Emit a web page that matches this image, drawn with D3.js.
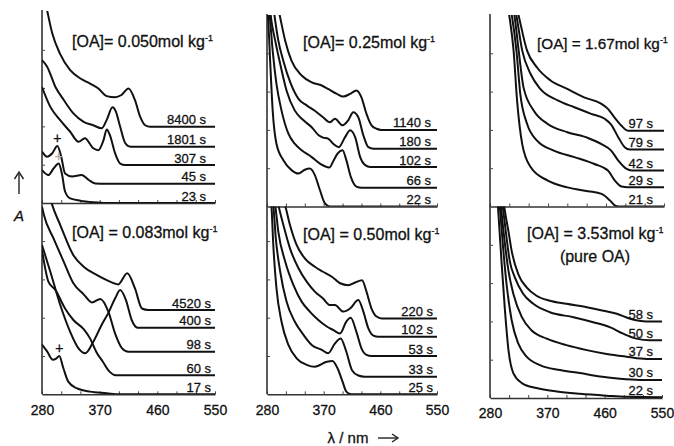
<!DOCTYPE html>
<html>
<head>
<meta charset="utf-8">
<script src="https://cdn.jsdelivr.net/npm/d3@7"></script>
<style>
  body { margin: 0; background: #fff; }
  text { font-family: "Liberation Sans", Arial, sans-serif; fill: #111; stroke: #111; stroke-width: 0.3; }
</style>
</head>
<body>
<div id="chart"></div>
<script>
// wavelength tick labels (nm) and absorbance ticks
const tickNm = [280, 370, 460, 550];
const minorNm = [280, 310, 340, 370, 400, 430, 460, 490, 520, 550];
const tickA = [1, 2, 3, 4];

const titles = ["[OA]= 0.050mol kg", "[OA]= 0.25mol kg", "[OA] = 1.67mol kg",
                "[OA] = 0.083mol kg", "[OA] = 0.50mol kg", "[OA] = 3.53mol kg"];

// spectra: [wavelength nm, A in tick units], top curve first
const times050 = ["8400 s", "1801 s", "307 s", "45 s", "23 s"];
const spectra050 = [
  [[281,5.6],[288,5.03],[296,4.43],[308,3.9],[324,3.47],[340,3.25],[355,3.12],[368,2.99],[381,2.79],[394,2.76],[404,2.82],[415,2.99],[425,2.69],[433,2.26],[441,2.03],[449,1.99],[550,1.99]],
  [[280,3.73],[288,3.56],[301,3.03],[314,2.69],[329,2.34],[345,2.12],[360,2.03],[373,1.95],[381,2.17],[390,2.5],[395,2.4],[402,1.99],[410,1.56],[418,1.47],[550,1.47]],
  [[280,3.03],[293,2.51],[308,2.17],[324,1.86],[337,1.6],[347,1.69],[360,1.43],[368,1.38],[376,1.64],[381,1.92],[386,1.77],[394,1.3],[402,1.03],[410,0.99],[550,0.99]],
  [[280,1.34],[288,1.21],[296,1.3],[304,1.49],[310,1.21],[316,0.77],[327,0.69],[342,0.73],[353,0.6],[363,0.51],[381,0.5],[550,0.5]],
  [[280,0.86],[290,0.73],[298,0.9],[306,1.03],[311,0.77],[316,0.3],[324,0.12],[340,0.06],[360,0.02],[380,0],[550,0]]
];

const times025 = ["1140 s", "180 s", "102 s", "66 s", "22 s"];
const spectra025 = [
  [[293,5.6],[302,4.85],[309,4.32],[319,3.8],[335,3.42],[351,3.24],[367,3.16],[377,3.07],[391,2.94],[401,2.87],[412,2.94],[422,3.03],[430,2.85],[438,2.42],[446,2.12],[454,2.03],[462,2.0],[550,2.0]],
  [[287,5.6],[293,4.85],[298,4.33],[306,3.8],[317,3.24],[330,2.81],[343,2.64],[356,2.5],[369,2.33],[380,2.2],[388,2.29],[400,2.12],[409,2.25],[417,2.46],[425,2.33],[433,1.86],[441,1.55],[449,1.51],[550,1.51]],
  [[282,5.6],[287,4.85],[293,4.33],[301,3.72],[311,3.03],[324,2.51],[338,2.25],[351,2.07],[362,1.86],[369,1.8],[377,1.77],[385,1.64],[394,1.55],[404,1.81],[412,1.99],[420,1.81],[428,1.29],[436,1.08],[444,1.03],[550,1.03]],
  [[280,5.5],[285,4.85],[289,4.07],[295,3.2],[303,2.51],[314,1.9],[324,1.64],[335,1.47],[351,1.29],[364,1.12],[379,1.02],[386,1.21],[392,1.38],[400,1.47],[406,1.21],[413,0.78],[422,0.52],[430,0.49],[550,0.49]],
  [[280,5.3],[282,4.85],[285,3.8],[289,2.51],[295,1.64],[306,1.21],[319,0.95],[330,0.86],[340,0.96],[348,0.99],[356,0.82],[364,0.43],[372,0.08],[380,0],[550,0]]
];

const times167 = ["97 s", "79 s", "42 s", "29 s", "21 s"];
const spectra167 = [
  [[316,5.6],[324.5,4.98],[337.5,4.07],[353,3.63],[374,3.29],[400,3.07],[426,2.85],[453,2.68],[463,2.55],[473,2.33],[484,2.11],[494,1.98],[550,1.98]],
  [[313,5.6],[321,4.98],[330,4.07],[343,3.46],[358,3.07],[385,2.77],[411,2.59],[437,2.42],[458,2.29],[468,2.14],[479,1.81],[489,1.55],[497,1.49],[550,1.49]],
  [[310,5.6],[318,4.98],[324.5,4.07],[332,3.11],[348,2.5],[369,2.16],[400,1.94],[432,1.79],[453,1.63],[468,1.46],[479,1.2],[492,0.98],[500,0.94],[550,0.94]],
  [[307,5.6],[314,4.98],[321,4.07],[327,2.94],[337.5,2.16],[353,1.72],[379,1.46],[411,1.29],[442,1.11],[463,0.94],[473.5,0.68],[484,0.52],[494,0.5],[550,0.5]],
  [[304,5.6],[310,4.98],[316.6,4.07],[322,2.77],[330,1.63],[343,1.03],[369,0.68],[400,0.5],[432,0.4],[453,0.33],[466,0.16],[473.5,0.03],[480,0],[550,0]]
];

const times083 = ["4520 s", "400 s", "98 s", "60 s", "17 s"];
const spectra083 = [
  [[290,5.3],[296,4.94],[308.5,4.42],[329,3.63],[345,3.33],[366,3.11],[381,2.98],[399,2.87],[413,3.16],[425,2.77],[436,2.24],[446,2.2],[550,2.2]],
  [[280,3.9],[293,3.2],[308.5,2.33],[324,1.63],[337,1.2],[347.5,1.07],[360,1.37],[373,1.81],[384,2.14],[394,2.5],[402,2.72],[411,2.46],[420,1.94],[429,1.74],[550,1.74]],
  [[280,4.9],[283,4.68],[298,4.07],[314,3.46],[329,2.9],[345,2.61],[358,2.4],[371,2.49],[384,2.14],[394,1.59],[405,1.2],[415,1.11],[550,1.11]],
  [[280,3.77],[290,2.94],[301,2.72],[316,2.24],[329,1.94],[345,1.7],[355,1.46],[365,1.1],[375,0.85],[385,0.6],[395,0.5],[550,0.5]],
  [[280,1.3],[288,1.12],[297,0.9],[302,0.93],[307,1.0],[313,0.7],[321,0.33],[334,0.16],[355,0.07],[381,0.03],[400,0],[550,0]]
];

const times050b = ["220 s", "102 s", "53 s", "33 s", "25 s"];
const spectra050b = [
  [[300,5.3],[308.6,4.94],[316.5,4.42],[327,3.9],[340,3.55],[356,3.33],[369,3.2],[383,3.07],[396,2.9],[409,2.85],[420,2.92],[431,2.98],[438,2.68],[446,2.24],[454,2.03],[462,1.98],[550,1.98]],
  [[293,5.3],[298,4.94],[306,4.42],[316.5,3.81],[330,3.29],[343,2.94],[356,2.68],[369,2.5],[380,2.33],[388,2.33],[401,2.16],[412,2.24],[425,2.46],[433,2.16],[441,1.72],[449,1.53],[457,1.5],[550,1.5]],
  [[288,5.3],[293,4.94],[298,4.24],[309,3.46],[322,2.85],[335,2.42],[348,2.16],[361.5,1.94],[375,1.77],[385,1.68],[396,1.59],[406,1.9],[413,2.0],[422,1.63],[430,1.2],[438,1.03],[446,1.0],[550,1.0]],
  [[286,5.3],[290,4.94],[294,4.07],[301,3.2],[311,2.42],[324,1.9],[338,1.55],[351,1.29],[367,1.16],[377,1.07],[388,1.33],[397,1.46],[406,1.11],[415,0.63],[425,0.49],[435,0.46],[550,0.46]],
  [[284,5.3],[287,4.94],[290,3.9],[295,2.77],[303,1.9],[314,1.29],[327,0.94],[343,0.77],[356,0.72],[375,0.85],[384,0.87],[392,0.68],[400,0.33],[406,0.07],[414,0],[550,0]]
];

const times353 = ["58 s", "50 s", "37 s", "30 s", "22 s"];
const spectra353 = [
  [[298,5.6],[303.5,4.87],[309,4.35],[314,3.84],[324.5,3.23],[337.5,2.89],[353,2.67],[374,2.54],[400,2.46],[432,2.37],[458,2.28],[479,2.2],[500,2.07],[526,2.0],[550,2.0]],
  [[296,5.6],[301,4.87],[306,4.18],[311,3.58],[319,3.15],[332,2.72],[348,2.46],[374,2.24],[411,2.11],[442,1.98],[468,1.85],[489,1.68],[510,1.55],[531,1.51],[550,1.51]],
  [[294,5.6],[298,4.87],[303.5,4.01],[309,3.32],[316.6,2.72],[330,2.11],[345,1.77],[369,1.55],[400,1.38],[432,1.25],[463,1.15],[494,1.08],[526,1.02],[550,1.02]],
  [[292,5.6],[296,4.87],[301,3.84],[306,2.97],[314,2.03],[324.5,1.42],[337.5,1.08],[358.5,0.86],[390,0.73],[421,0.65],[453,0.56],[484,0.5],[515,0.47],[550,0.47]],
  [[290,5.6],[293,4.87],[298,3.58],[303.5,2.28],[309,1.25],[316.6,0.65],[330,0.39],[353,0.26],[385,0.17],[421,0.11],[463,0.06],[494,0.03],[550,0.02]]
];

// "+" marks on the first peak (panel index, curve index, wavelength, colour)
const plusMarks = [[0, 3, 304, "#111"], [0, 4, 306, "#aaa"], [3, 4, 307, "#111"]];

const W = 674, H = 446, unit = 38.3;

const panels = [
  { title: titles[0], times: times050, spectra: spectra050, x0: 42, x1: 215, yb: 203, yt: 11, tx: 72, ty: 47, fs: 16, lx: 206 },
  { title: titles[1], times: times025, spectra: spectra025, x0: 267, x1: 437, yb: 206.5, yt: 15, tx: 303, ty: 48, fs: 16, lx: 431 },
  { title: titles[2], times: times167, spectra: spectra167, x0: 490, x1: 664, yb: 206.5, yt: 15, tx: 537, ty: 49, fs: 15.3, lx: 653 },
  { title: titles[3], times: times083, spectra: spectra083, x0: 42, x1: 215, yb: 394.3, yt: 203, tx: 72, ty: 238, fs: 16, lx: 211, labels: true },
  { title: titles[4], times: times050b, spectra: spectra050b, x0: 267, x1: 437, yb: 394.3, yt: 206.5, tx: 303, ty: 240, fs: 16, lx: 433, labels: true },
  { title: titles[5], times: times353, spectra: spectra353, x0: 490, x1: 662, yb: 398, yt: 206.5, tx: 527, ty: 239, fs: 16, lx: 653, labels: true, sub: "(pure OA)" }
];

const svg = d3.select("#chart").append("svg")
  .attr("width", W).attr("height", H);

panels.forEach((p, i) => {
  const x = d3.scaleLinear().domain([280, 550]).range([p.x0, p.x1]);
  const y = d3.scaleLinear().domain([0, 5]).range([p.yb, p.yb - 5 * unit]);
  const g = svg.append("g");

  g.append("clipPath").attr("id", "clip" + i)
    .append("rect")
    .attr("x", p.x0).attr("y", p.yt)
    .attr("width", p.x1 - p.x0 + 6).attr("height", p.yb - p.yt);

  // axes
  const ax = g.append("g").attr("transform", "translate(0," + p.yb + ")")
    .call(d3.axisBottom(x).tickValues(minorNm).tickSizeInner(-3).tickSizeOuter(0).tickFormat(""));
  const ay = g.append("g").attr("transform", "translate(" + p.x0 + ",0)")
    .call(d3.axisLeft(y).tickValues(tickA).tickSizeInner(-3).tickSizeOuter(0).tickFormat(""));
  ay.select(".domain").attr("d", "M0," + (p.yt - 1) + "V" + p.yb);
  [ax, ay].forEach(a => {
    a.select(".domain").attr("stroke", "#333").attr("stroke-width", 1.6);
    a.selectAll(".tick line").attr("stroke", "#444").attr("stroke-width", 1);
  });

  if (p.labels) {
    const lab = g.append("g").attr("transform", "translate(0," + p.yb + ")")
      .call(d3.axisBottom(x).tickValues(tickNm).tickSize(0).tickPadding(10.5));
    lab.select(".domain").remove();
    lab.selectAll("text").attr("font-size", 14).attr("font-family", "Liberation Sans, Arial, sans-serif").attr("fill", "#111");
  }

  const line = d3.line()
    .x(d => x(d[0]))
    .y(d => y(d[1]))
    .curve(d3.curveMonotoneX);

  g.append("g").attr("clip-path", "url(#clip" + i + ")")
    .selectAll("path")
    .data(p.spectra)
    .join("path")
    .attr("d", line)
    .attr("fill", "none")
    .attr("stroke", "#111")
    .attr("stroke-width", 2)
    .attr("stroke-linejoin", "round");

  // time labels sitting on each curve's flat tail
  g.selectAll("text.time")
    .data(p.times)
    .join("text")
    .attr("class", "time")
    .attr("x", p.lx)
    .attr("y", (d, j) => y(p.spectra[j][p.spectra[j].length - 1][1]) - 2.5)
    .attr("text-anchor", "end")
    .attr("font-size", 13)
    .text(d => d);

  const t = g.append("text").attr("x", p.tx).attr("y", p.ty).attr("font-size", p.fs);
  t.append("tspan").text(p.title);
  t.append("tspan").attr("dy", -6).attr("font-size", 9).text("-1");
  if (p.sub) {
    g.append("text").attr("x", 595).attr("y", p.ty + 23)
      .attr("text-anchor", "middle").attr("font-size", 16).text(p.sub);
  }

  plusMarks.filter(m => m[0] === i).forEach(m => {
    const c = p.spectra[m[1]];
    const pk = c.find(d => d[0] === m[2]);
    g.append("text").attr("x", x(pk[0])).attr("y", y(pk[1]) - 3)
      .attr("text-anchor", "middle").attr("font-size", 14)
      .style("fill", m[3]).style("stroke", m[3]).text("+");
  });
});

// axis titles
svg.append("text").attr("x", 19).attr("y", 221).attr("text-anchor", "middle")
  .attr("font-size", 15).attr("font-style", "italic").text("A");
svg.append("path").attr("d", "M19,194V174").attr("stroke", "#222").attr("stroke-width", 1.4);
svg.append("path").attr("d", "M14.5,179L19,172L23.5,179").attr("fill", "none").attr("stroke", "#222").attr("stroke-width", 1.4);

svg.append("text").attr("x", 348).attr("y", 443).attr("text-anchor", "middle")
  .attr("font-size", 15).text("\u03bb / nm");
svg.append("path").attr("d", "M378,438H397").attr("stroke", "#222").attr("stroke-width", 1.4);
svg.append("path").attr("d", "M392,434L398,438L392,442").attr("fill", "none").attr("stroke", "#222").attr("stroke-width", 1.4);
</script>
</body>
</html>
